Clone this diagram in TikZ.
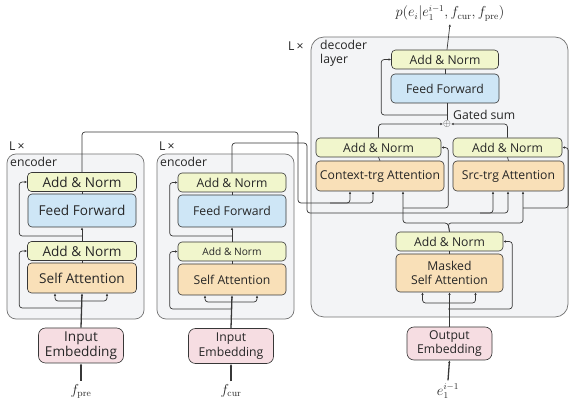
\documentclass[tikz,border=0pt]{standalone}
\usepackage{fontspec}
\setsansfont{Open Sans}
\usepackage{amsmath}
\usetikzlibrary{arrows.meta}

\definecolor{normfill}{RGB}{241,246,204}
\definecolor{fffill}{RGB}{206,230,246}
\definecolor{attfill}{RGB}{249,224,184}
\definecolor{embfill}{RGB}{246,221,226}
\definecolor{panelfill}{RGB}{243,244,246}
\definecolor{linecol}{RGB}{55,55,55}

\begin{document}
\begin{tikzpicture}[x=1pt,y=-1pt,
        every node/.style={font=\sffamily\fontsize{12.2}{14.5}\selectfont, text=black!85},
        bigtext/.style={font=\sffamily\fontsize{13.6}{15}\selectfont},
        block/.style={shape=rectangle, rounded corners=4pt, draw=linecol,
        line width=0.6pt, inner sep=0pt, align=center},
        addnorm/.style={block, fill=normfill, minimum height=19pt},
        ffblock/.style={block, fill=fffill},
        attn/.style={block, fill=attfill},
        embed/.style={block, fill=embfill, rounded corners=7pt,
        minimum width=85pt, minimum height=35pt},
        panel/.style={draw=black!55, fill=panelfill, line width=0.7pt},
        conn/.style={draw=linecol, line width=0.7pt, rounded corners=3pt},
        feed/.style={draw=linecol, line width=1.3pt},
        tip/.style={-{Latex[length=2.6pt,width=2.4pt]}},
        mathlbl/.style={font=\fontsize{13.5}{16}\selectfont, inner sep=3pt}]
	\fill[white] (0,0) rectangle (571,403);
	\useasboundingbox (0,0) rectangle (571,403);
	\draw[panel, rounded corners=9pt] (7,154) rectangle (144,319);
	\draw[panel, rounded corners=9pt] (157,154) rectangle (294,319);
	\draw[panel, rounded corners=13pt] (311,37) rectangle (568,317);
	\node[anchor=west, inner sep=0pt] (lx1) at (9,146) {L\,×};
	\node[anchor=west, inner sep=0pt] (enclbl1) at (10,162) {encoder};
	\node[anchor=west, inner sep=0pt] (lx2) at (159,146) {L\,×};
	\node[anchor=west, inner sep=0pt] (enclbl2) at (160,162) {encoder};
	\node[anchor=west, inner sep=0pt] (lx3) at (288,46) {L\,×};
	\node[anchor=north west, align=left, inner sep=0pt] (declbl) at (320,40) {decoder\\layer};
	% context encoder
	\node[addnorm, bigtext, minimum width=109pt] (an1) at (82,182) {Add \& Norm};
	\node[ffblock, bigtext, minimum width=108pt, minimum height=33pt] (ff1) at (82,210.5) {Feed Forward};
	\node[addnorm, bigtext, minimum width=109pt] (an1b) at (82,251) {Add \& Norm};
	\node[attn, bigtext, minimum width=109pt, minimum height=30pt] (sa1) at (82,278) {Self Attention};
	\node[embed, bigtext] (emb1) at (81,345.5) {Input\\Embedding};
	\node[mathlbl] (fpre) at (81,391) {$f_{\mathrm{pre}}$};
	% source encoder
	\node[addnorm, minimum width=108pt] (an2) at (232,182.5) {Add \& Norm};
	\node[ffblock, minimum width=108pt, minimum height=32pt] (ff2) at (232,211) {Feed Forward};
	\node[addnorm, minimum width=108pt, font=\sffamily\fontsize{10.2}{12}\selectfont] (an2b) at (232,251.5) {Add \& Norm};
	\node[attn, minimum width=108pt, minimum height=31pt] (sa2) at (232,279.5) {Self Attention};
	\node[embed] (emb2) at (231,346) {Input\\Embedding};
	\node[mathlbl] (fcur) at (231,391) {$f_{\mathrm{cur}}$};
	% decoder
	\node[addnorm, minimum width=107pt] (tan) at (445,59.5) {Add \& Norm};
	\node[ffblock, minimum width=108pt, minimum height=29pt] (tff) at (445,88.5) {Feed Forward};
	\node[inner sep=0pt, font=\normalsize] (gsum) at (447,124) {$\oplus$};
	\node[anchor=west, inner sep=0pt] (gatelbl) at (453,115) {Gated sum};
	\node[addnorm, minimum width=125pt] (ctaan) at (378.5,147.5) {Add \& Norm};
	\node[attn, minimum width=128pt, minimum height=30pt] (cta) at (380,176) {Context-trg Attention};
	\node[addnorm, minimum width=109pt] (staan) at (507.5,147.5) {Add \& Norm};
	\node[attn, minimum width=111pt, minimum height=30pt] (sta) at (508.5,176) {Src-trg Attention};
	\node[addnorm, minimum width=107pt] (man) at (449.5,241.5) {Add \& Norm};
	\node[attn, minimum width=107pt, minimum height=38pt] (msa) at (449.5,273) {Masked\\Self Attention};
	\node[embed, minimum height=33pt] (oemb) at (449.5,343.5) {Output\\Embedding};
	\node[mathlbl] (prev) at (448,391) {$e_1^{i-1}$};
	\node[mathlbl] (outp) at (450,13) {$p(e_i|e_1^{i-1},f_{\mathrm{cur}},f_{\mathrm{pre}})$};
	\coordinate (s1) at (82,301);
	\coordinate (r1) at (82,308);
	\coordinate (r1b) at (82,236);
	\coordinate (s2) at (232,302);
	\coordinate (r2) at (232,309);
	\coordinate (r2b) at (232,236);
	\coordinate (ms) at (448,303);
	\coordinate (mr) at (448,309);
	\coordinate (qs) at (448,223);
	\coordinate (kv1) at (330,203);
	\coordinate (kv2) at (480,213);
	\coordinate (cr) at (403,208);
	\coordinate (sr) at (523,208);
	\coordinate (tr) at (447,115);
	% context encoder links
	\draw[feed,tip] (fpre.north) -- (emb1.south);
	\draw[feed,tip] (emb1.north) -- (sa1.south);
	\draw[conn,tip] (s1) -| ([xshift=-27]sa1.south);
	\draw[conn,tip] (s1) -| ([xshift=25]sa1.south);
	\draw[conn,tip] (r1) -| ([xshift=-8]an1b.west) -- (an1b.west);
	\draw[conn] (sa1.north) -- (an1b.south);
	\draw[conn,tip] (an1b.north) -- (ff1.south);
	\draw[conn,tip] (r1b) -| ([xshift=-8]an1.west) -- (an1.west);
	\draw[conn] (ff1.north) -- (an1.south);
	% source encoder links
	\draw[feed,tip] (fcur.north) -- (emb2.south);
	\draw[feed,tip] (emb2.north) -- (sa2.south);
	\draw[conn,tip] (s2) -| ([xshift=-27]sa2.south);
	\draw[conn,tip] (s2) -| ([xshift=25]sa2.south);
	\draw[conn,tip] (r2) -| ([xshift=-8]an2b.west) -- (an2b.west);
	\draw[conn] (sa2.north) -- (an2b.south);
	\draw[conn,tip] (an2b.north) -- (ff2.south);
	\draw[conn,tip] (r2b) -| ([xshift=-8]an2.west) -- (an2.west);
	\draw[conn] (ff2.north) -- (an2.south);
	% encoder outputs into the decoder
	\draw[conn,tip] (an1.north) |- (298,132) -- (298,203) -| ([xshift=-30]cta.south);
	\draw[conn,tip] (kv1) -| ([xshift=-7]cta.south);
	\draw[conn,tip] (an2.north) |- (307,143) -- (307,213) -| ([xshift=-15.5]sta.south);
	\draw[conn,tip] (kv2) -| ([xshift=-0.5]sta.south);
	% decoder links
	\draw[feed,tip] (prev.north) -- (oemb.south);
	\draw[conn,tip] (oemb.north) -- (msa.south);
	\draw[conn,tip] (ms) -| ([xshift=-27]msa.south);
	\draw[conn,tip] (ms) -| ([xshift=26]msa.south);
	\draw[conn,tip] (mr) -| ([xshift=9]man.east) -- (man.east);
	\draw[conn] (msa.north) -- (man.south);
	\draw[conn,tip] (man.north) -- (qs) -| ([xshift=23]cta.south);
	\draw[conn,tip] (man.north) -- (qs) -| ([xshift=14.5]sta.south);
	\draw[conn,tip] (cr) -| ([xshift=7]ctaan.east) -- (ctaan.east);
	\draw[conn,tip] (sr) -| ([xshift=6]staan.east) -- (staan.east);
	\draw[conn] (cta.north) -- (ctaan.south);
	\draw[conn] (sta.north) -- (staan.south);
	\draw[conn,tip] (ctaan.north) |- (gsum.west);
	\draw[conn,tip] (staan.north) |- (gsum.east);
	\draw[conn] (gsum.north) -- (gsum.north |- tff.south);
	\draw[conn,tip] (tr) -| ([xshift=-10]tan.west) -- (tan.west);
	\draw[conn] (tff.north) -- (tan.south);
	\draw[conn,tip] (tan.north -| gsum) -- (outp.south);
\end{tikzpicture}
\end{document}
